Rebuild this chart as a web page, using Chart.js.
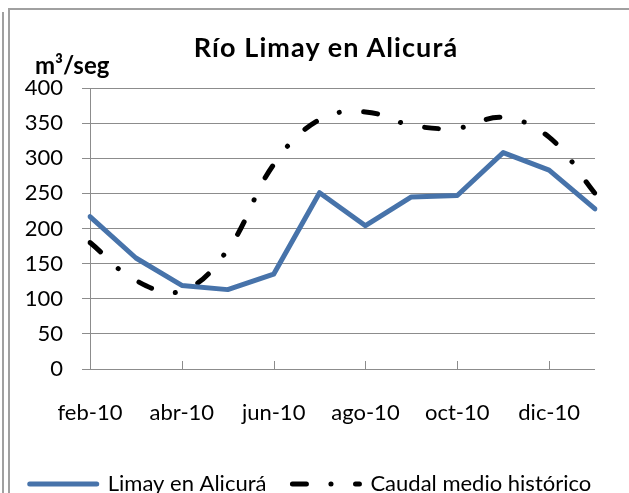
<!DOCTYPE html>
<html lang="es">
<head>
  <meta charset="UTF-8" />
  <title>Río Limay en Alicurá</title>
  <style>
    body {
      margin: 0;
      background: #fff;
      overflow: hidden;
      font-family: Lato, sans-serif;
    }
    #wrap {
      position: relative;
      width: 629px;
      height: 505px;
    }
    .frame-outer {
      position: absolute;
      left: 2px; top: 12px; bottom: 0;
      width: 2px;
      background: #a0a0a0;
    }
    .frame-inner {
      position: absolute;
      left: 8px; top: 8px; right: 0; bottom: 0;
      border-left: 2px solid #a0a0a0;
      border-top: 2px solid #a0a0a0;
    }
    #title {
      position: absolute;
      left: 0; width: 652px; top: 33px;
      text-align: center;
      font-weight: bold;
      font-size: 27px;
      line-height: 27px;
      letter-spacing: 1.1px;
      color: #000;
    }
    #unit {
      position: absolute;
      left: 35px; top: 53px;
      font-weight: bold;
      font-size: 24px;
      line-height: 24px;
      color: #000;
    }
    canvas { position: absolute; left: 0; top: 0; }
  </style>
</head>
<body>
  <div id="wrap">
    <div class="frame-outer"></div>
    <div class="frame-inner"></div>
    <canvas id="chart" width="629" height="505"></canvas>
    <div id="title">Río Limay en Alicurá</div>
    <div id="unit">m³/seg</div>
  </div>

  <script src="https://cdn.jsdelivr.net/npm/chart.js"></script>
  <script>
// datos mensuales (m3/seg)
const months = ["feb-10", "mar-10", "abr-10", "may-10", "jun-10", "jul-10",
                "ago-10", "sep-10", "oct-10", "nov-10", "dic-10", "ene-11"];
const shownLabels = ["feb-10", "abr-10", "jun-10", "ago-10", "oct-10", "dic-10"];
const limayAlicura = [217, 158, 119, 113, 135, 251, 204, 245, 247, 308, 283, 228];
const caudalHistorico = [180, 126, 111, 170, 291, 355, 366, 347, 343, 358, 330, 250];

const GRID = "#8c8c8c";

// marcas del eje x hacia adentro del grafico
const innerTicks = {
  id: "innerTicks",
  afterDatasetsDraw(chart) {
    const x = chart.scales.x;
    const bottom = chart.chartArea.bottom;
    const ctx = chart.ctx;
    ctx.save();
    ctx.strokeStyle = GRID;
    ctx.lineWidth = 1;
    months.forEach((m, i) => {
      if (i % 2 !== 0) return;
      const px = Math.round(x.getPixelForValue(i)) + 0.5;
      ctx.beginPath();
      ctx.moveTo(px, bottom);
      ctx.lineTo(px, bottom - 8);
      ctx.stroke();
    });
    ctx.restore();
  }
};

new Chart(document.getElementById("chart"), {
  type: "line",
  data: {
    labels: months,
    datasets: [
      {
        label: "Limay en Alicurá",
        data: limayAlicura,
        borderColor: "#4773aa",
        backgroundColor: "#4773aa",
        borderWidth: 5,
        borderCapStyle: "round",
        borderJoinStyle: "round",
        pointRadius: 0,
        tension: 0
      },
      {
        label: "Caudal medio histórico",
        data: caudalHistorico,
        borderColor: "#000",
        backgroundColor: "#000",
        borderWidth: 5,
        borderCapStyle: "round",
        borderDash: [14, 24.5, 0.1, 24.5],
        pointRadius: 0,
        tension: 0.4
      }
    ]
  },
  plugins: [innerTicks],
  options: {
    responsive: false,
    animation: false,
    devicePixelRatio: 1,
    layout: { padding: { top: 88, left: 0, right: 8, bottom: 0 } },
    scales: {
      x: {
        offset: false,
        afterFit: s => { s.height = 78; },
        grid: { display: false },
        border: { display: false },
        ticks: {
          autoSkip: false,
          maxRotation: 0,
          padding: 22.6,
          color: "#000",
          font: { family: "Lato", size: 22 },
          callback: function (v) {
            const l = this.getLabelForValue(v);
            return shownLabels.includes(l) ? l : "";
          }
        }
      },
      y: {
        min: 0,
        max: 400,
        afterFit: s => { s.width = 90; },
        grid: { color: GRID, tickLength: 8 },
        border: { color: GRID },
        ticks: {
          stepSize: 50,
          padding: 19,
          color: "#000",
          font: { family: "Lato", size: 22 }
        }
      },
      // eje vacio a la derecha, solo para dejar el margen
      yRight: {
        position: "right",
        afterFit: s => { s.width = 26; },
        grid: { display: false },
        border: { display: false },
        ticks: { display: false }
      }
    },
    plugins: {
      title: { display: false },
      tooltip: { enabled: false },
      legend: {
        position: "bottom",
        labels: {
          usePointStyle: true,
          pointStyleWidth: 67,
          padding: 26,
          color: "#000",
          font: { family: "Lato", size: 22 },
          generateLabels: c => c.data.datasets.map((ds, i) => ({
            text: ds.label,
            fillStyle: ds.borderColor,
            strokeStyle: ds.borderColor,
            lineWidth: ds.borderWidth,
            lineCap: "round",
            lineDash: ds.borderDash || [],
            pointStyle: "line",
            hidden: false,
            datasetIndex: i
          }))
        }
      }
    }
  }
});
  </script>
</body>
</html>
